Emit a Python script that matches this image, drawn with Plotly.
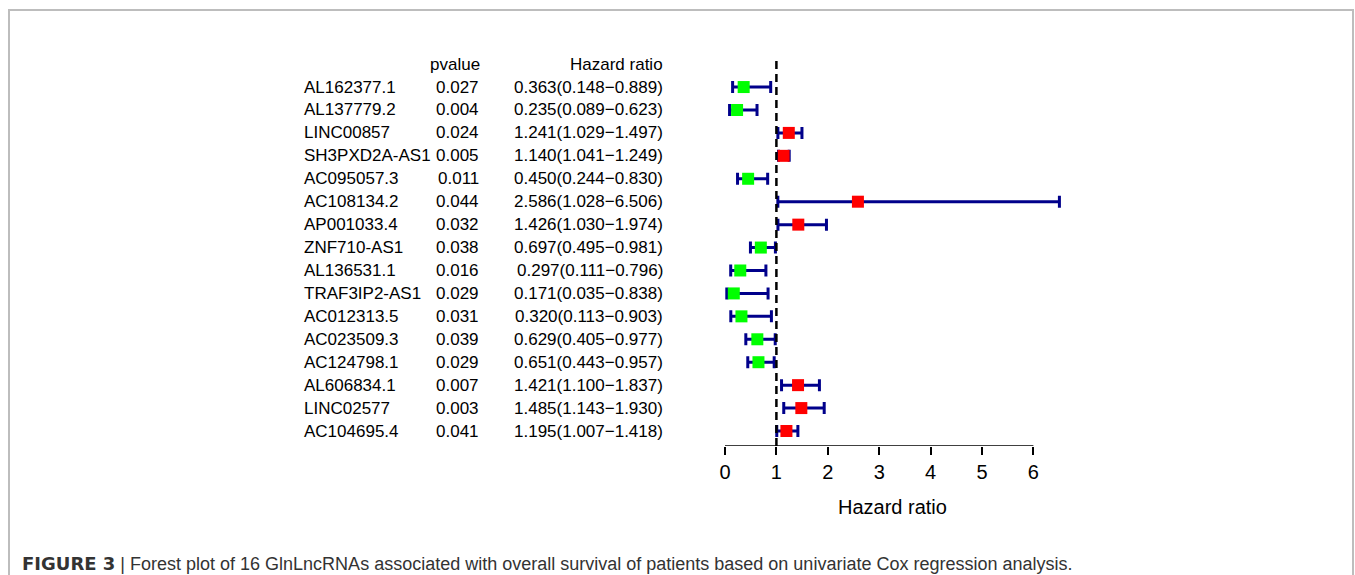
import plotly.graph_objects as go

# ---- data ----
genes = ["AL162377.1", "AL137779.2", "LINC00857", "SH3PXD2A-AS1", "AC095057.3",
         "AC108134.2", "AP001033.4", "ZNF710-AS1", "AL136531.1", "TRAF3IP2-AS1",
         "AC012313.5", "AC023509.3", "AC124798.1", "AL606834.1", "LINC02577",
         "AC104695.4"]
pvalues = ["0.027", "0.004", "0.024", "0.005", "0.011", "0.044", "0.032", "0.038",
           "0.016", "0.029", "0.031", "0.039", "0.029", "0.007", "0.003", "0.041"]
hr = [0.363, 0.235, 1.241, 1.140, 0.450, 2.586, 1.426, 0.697,
      0.297, 0.171, 0.320, 0.629, 0.651, 1.421, 1.485, 1.195]
hr_low = [0.148, 0.089, 1.029, 1.041, 0.244, 1.028, 1.030, 0.495,
          0.111, 0.035, 0.113, 0.405, 0.443, 1.100, 1.143, 1.007]
hr_high = [0.889, 0.623, 1.497, 1.249, 0.830, 6.506, 1.974, 0.981,
           0.796, 0.838, 0.903, 0.977, 0.957, 1.837, 1.930, 1.418]
tick_vals = [0, 1, 2, 3, 4, 5, 6]
tick_text = ["0", "1", "2", "3", "4", "5", "6"]
caption_bold = "FIGURE 3"
caption_text = (" | Forest plot of 16 GlnLncRNAs associated with overall survival of "
                "patients based on univariate Cox regression analysis.")

W, H = 1355, 575
n = len(genes)
rows = list(range(n, 0, -1))  # first gene on top
hr_labels = [f"{h:.3f}({l:.3f}\u2212{u:.3f})" for h, l, u in zip(hr, hr_low, hr_high)]
colors = ["#FF0000" if h > 1 else "#00FF00" for h in hr]

FONT = "Liberation Sans, Arial, sans-serif"

fig = go.Figure()
fig.add_trace(go.Scatter(
    x=hr, y=rows, mode="markers",
    marker=dict(symbol="square", size=12, color=colors, line=dict(width=0)),
    error_x=dict(type="data", symmetric=False,
                 array=[u - h for u, h in zip(hr_high, hr)],
                 arrayminus=[h - l for h, l in zip(hr, hr_low)],
                 color="#00008B", thickness=3, width=6),
    hoverinfo="skip",
))

# axis geometry (pixels -> data)
px_per_x = 51.4
x0_px = 725
row_px = 22.93
row1_px = 431
axis_px = 446
x_left = -x0_px / px_per_x
x_right = (W - x0_px) / px_per_x
y_bottom = 1 + (row1_px - axis_px) / row_px
y_top = 1 + row1_px / row_px

fig.update_xaxes(range=[x_left, x_right], domain=[0, 1],
                 tickvals=tick_vals, ticktext=tick_text,
                 ticks="outside", ticklen=8, tickwidth=1.5, tickcolor="black",
                 showline=False, showgrid=False, zeroline=False,
                 tickfont=dict(family=FONT, size=20, color="black"))
fig.update_yaxes(range=[y_bottom, y_top], domain=[(H - axis_px) / H, 1],
                 visible=False)

# axis line 0..6
fig.add_shape(type="line", xref="x", yref="y", x0=tick_vals[0], x1=tick_vals[-1],
              y0=y_bottom, y1=y_bottom, line=dict(color="black", width=1.5))
# reference dashed line at HR = 1
fig.add_shape(type="line", xref="x", yref="y", x0=1, x1=1,
              y0=y_bottom, y1=n + 1.28,
              line=dict(color="black", width=2.5, dash="8px,5px"))

# text columns
tfont = dict(family=FONT, size=17, color="black")
for r, g, p, lab in zip(rows, genes, pvalues, hr_labels):
    fig.add_annotation(x=302 / W, xref="paper", y=r, yref="y", text=g,
                       showarrow=False, xanchor="left", yanchor="middle", font=tfont)
    fig.add_annotation(x=481 / W, xref="paper", y=r, yref="y", text=p,
                       showarrow=False, xanchor="right", yanchor="middle", font=tfont)
    fig.add_annotation(x=665 / W, xref="paper", y=r, yref="y", text=lab,
                       showarrow=False, xanchor="right", yanchor="middle", font=tfont)
fig.add_annotation(x=482 / W, xref="paper", y=n + 1, yref="y", text="pvalue",
                   showarrow=False, xanchor="right", yanchor="middle", font=tfont)
fig.add_annotation(x=665 / W, xref="paper", y=n + 1, yref="y", text="Hazard ratio",
                   showarrow=False, xanchor="right", yanchor="middle", font=tfont)

# x axis title
fig.add_annotation(x=max(hr_high) / 2, xref="x", y=1 - 507 / H, yref="paper",
                   text="Hazard ratio", showarrow=False, xanchor="center",
                   yanchor="middle", font=dict(family=FONT, size=20, color="black"))

# caption
fig.add_annotation(x=20 / W, xref="paper", y=1 - 563 / H, yref="paper",
                   text=(f"<span style=\"font-family:DejaVu Sans\"><b>{caption_bold}</b></span>"
                         f"{caption_text}"),
                   showarrow=False, xanchor="left", yanchor="middle",
                   font=dict(family=FONT, size=18, color="#333333"))

# figure frame
fig.add_shape(type="rect", xref="paper", yref="paper",
              x0=9 / W, x1=1353 / W, y0=-0.05, y1=1 - 10 / H,
              line=dict(color="#bdbdbd", width=2), fillcolor="rgba(0,0,0,0)")

fig.update_layout(width=W, height=H, margin=dict(l=0, r=0, t=0, b=0),
                  paper_bgcolor="white", plot_bgcolor="white", showlegend=False)

fig.write_html("out.html")
